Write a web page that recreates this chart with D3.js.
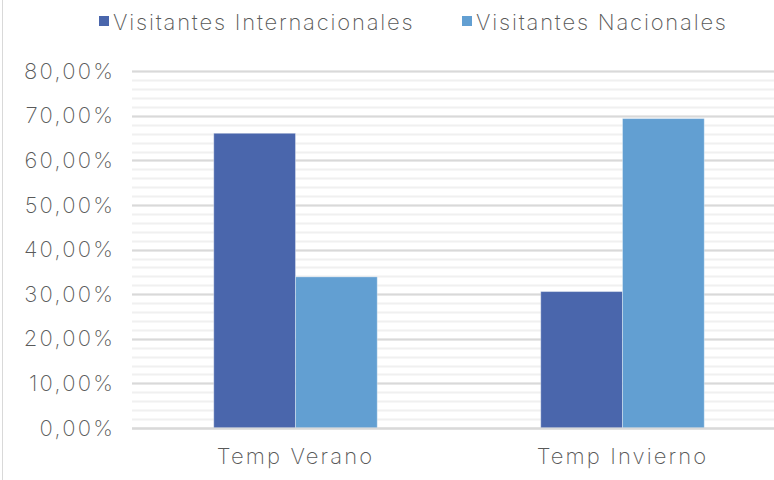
<!DOCTYPE html>
<html><head><meta charset="utf-8">
<script src="https://cdn.jsdelivr.net/npm/d3@7"></script>
<style>
html,body{margin:0;padding:0;background:#fff;}
svg{display:block;}
text{font-family:"Inter",sans-serif;font-weight:200;fill:#595959;}
</style></head>
<body>
<svg id="chart" width="774" height="480"></svg>
<script>
const categories = ["Temp Verano", "Temp Invierno"];
const seriesNames = ["Visitantes Internacionales", "Visitantes Nacionales"];
const internacionales = [0.661, 0.306];
const nacionales = [0.339, 0.694];
const yTicks = [0, 0.1, 0.2, 0.3, 0.4, 0.5, 0.6, 0.7, 0.8];
const colors = ["#4a66ac", "#629fd2"];

const svg = d3.select("#chart");
const W = 774, H = 480;
const plot = {left: 132, right: 786, top: 71.3, bottom: 428};

// left border
svg.append("line").attr("x1", 2.5).attr("x2", 2.5).attr("y1", 0).attr("y2", H)
  .attr("stroke", "#d9d9d9").attr("stroke-width", 1);

const y = d3.scaleLinear().domain([0, 0.8]).range([plot.bottom, plot.top]);
const x0 = d3.scaleBand().domain(categories).range([plot.left, plot.right]).paddingInner(0).paddingOuter(0);
const x1 = d3.scaleBand().domain(seriesNames).range([0, x0.bandwidth()]).paddingInner(0).paddingOuter(1);

// minor gridlines
const minor = d3.range(0, 0.8001, 0.02);
svg.append("g").selectAll("line").data(minor).join("line")
  .attr("x1", plot.left).attr("x2", W)
  .attr("y1", d => Math.round(y(d)) + 0.5).attr("y2", d => Math.round(y(d)) + 0.5)
  .attr("stroke", "#f0f0f0").attr("stroke-width", 2);
// major gridlines
svg.append("g").selectAll("line").data(yTicks).join("line")
  .attr("x1", plot.left).attr("x2", W)
  .attr("y1", d => Math.round(y(d)) + 0.5).attr("y2", d => Math.round(y(d)) + 0.5)
  .attr("stroke", "#d9d9d9").attr("stroke-width", 2);

// y axis labels
const fmt = d => d3.format(".2f")(d * 100).replace(".", ",") + "%";
const yAxis = d3.axisLeft(y).tickValues(yTicks).tickFormat(fmt).tickSize(0).tickPadding(0);
const ga = svg.append("g").attr("transform", `translate(115,0)`).call(yAxis);
ga.select(".domain").remove();
ga.selectAll("text").attr("font-size", 22).attr("font-family", null).attr("fill", "#595959")
  .style("letter-spacing", "2.2px");

// bars
const data = categories.map((c, i) => ({cat: c, vals: [internacionales[i], nacionales[i]]}));
const groups = svg.append("g").selectAll("g").data(data).join("g")
  .attr("transform", d => `translate(${x0(d.cat)},0)`);
groups.selectAll("rect").data(d => d.vals.map((v, j) => ({v, s: seriesNames[j], j})))
  .join("rect")
  .attr("x", d => x1(d.s)).attr("width", x1.bandwidth())
  .attr("y", d => y(d.v)).attr("height", d => y(0) - y(d.v))
  .attr("fill", d => colors[d.j])
  .attr("stroke", "rgba(255,255,255,0.35)").attr("stroke-width", 1);

// x axis line
svg.append("line").attr("x1", plot.left).attr("x2", W)
  .attr("y1", plot.bottom + 0.5).attr("y2", plot.bottom + 0.5)
  .attr("stroke", "#d9d9d9").attr("stroke-width", 2);

// x axis labels
const xAxis = d3.axisBottom(x0).tickSize(0).tickPadding(0);
const gx = svg.append("g").attr("transform", `translate(0,${plot.bottom + 20})`).call(xAxis);
gx.select(".domain").remove();
gx.selectAll("text").attr("font-size", 22).attr("font-family", null).attr("fill", "#595959")
  .style("letter-spacing", "2.1px");

// legend
const legendX = [99, 462];
const lg = svg.append("g").selectAll("g").data(seriesNames).join("g")
  .attr("transform", (d, i) => `translate(${legendX[i]},0)`);
lg.append("rect").attr("x", 0).attr("y", 16).attr("width", 10).attr("height", 10)
  .attr("fill", (d, i) => colors[i]);
lg.append("text").attr("x", 14).attr("y", 30).attr("font-size", 22)
  .style("letter-spacing", "1.8px").text(d => d);
</script>
</body></html>
